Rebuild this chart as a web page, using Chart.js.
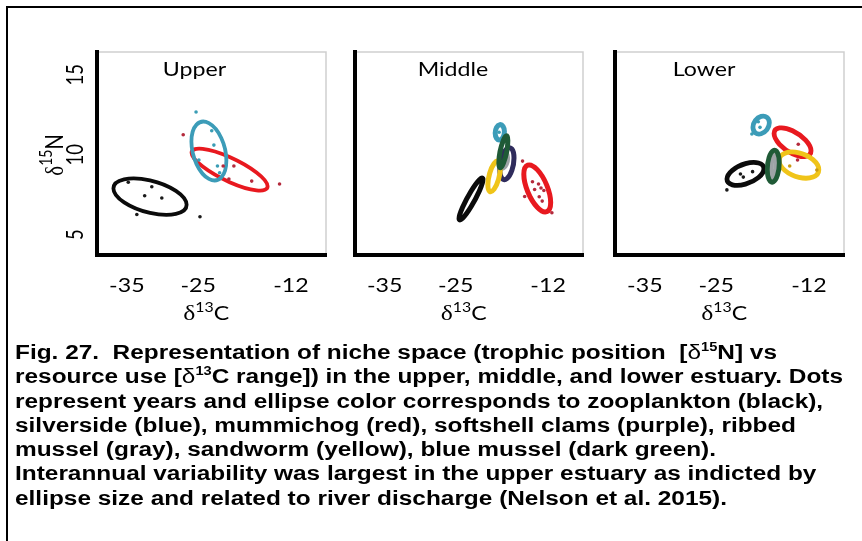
<!DOCTYPE html>
<html>
<head>
<meta charset="utf-8">
<script src="https://cdn.jsdelivr.net/npm/chart.js@4/dist/chart.umd.min.js"></script>
<style>
  html, body { margin: 0; padding: 0; background: #fff; }
  #page { position: relative; width: 862px; height: 541px; overflow: hidden; background: #fff; }
  #page canvas { position: absolute; left: 0; top: 0; }
  #frame { position: absolute; left: 6px; top: 6px; width: 1000px; height: 700px;
           border-left: 2px solid #000; border-top: 2px solid #000; }
  #caption { position: absolute; left: 15px; top: 340px; color: #000; white-space: nowrap;
             font-family: "Liberation Sans", Arial, sans-serif; font-weight: bold;
             font-size: 20px; line-height: 24.3px;
             transform: scaleX(1.22); transform-origin: 0 0; }
  #caption .d { font-weight: normal; }
  #caption sup { font-size: 12px; line-height: 0; vertical-align: 8px; }
</style>
</head>
<body>
<div id="page">
  <div id="frame"></div>
  <canvas id="upper" width="862" height="541"></canvas>
  <canvas id="middle" width="862" height="541"></canvas>
  <canvas id="lower" width="862" height="541"></canvas>
  <div id="caption">
    <div>Fig. 27.&nbsp; Representation of niche space (trophic position&nbsp; [<span class="d">δ</span><sup>15</sup>N] vs</div>
    <div>resource use [<span class="d">δ</span><sup>13</sup>C range]) in the upper, middle, and lower estuary. Dots</div>
    <div>represent years and ellipse color corresponds to zooplankton (black),</div>
    <div>silverside (blue), mummichog (red), softshell clams (purple), ribbed</div>
    <div>mussel (gray), sandworm (yellow), blue mussel (dark green).</div>
    <div>Interannual variability was largest in the upper estuary as indicted by</div>
    <div>ellipse size and related to river discharge (Nelson et al. 2015).</div>
  </div>
</div>
<script>
// ---- Data --------------------------------------------------------------
const xTickValues = [-35, -25, -12];   // δ13C
const yTickValues = [5, 10, 15];       // δ15N
const panelNames = ['Upper', 'Middle', 'Lower'];

// Niche ellipses: species, centre δ13C, centre δ15N, spread δ13C, spread δ15N, correlation
const upperEllipses = [
  ['zooplankton', -31.75, 7.38, 5.13, 1.14, -0.45],
  ['mummichog',   -20.6,  9.07, 5.33, 1.31, -0.80],
  ['silverside',  -23.5, 10.23, 2.45, 1.84, -0.32]
];
const middleEllipses = [
  ['zooplankton',     -22.85, 7.23, 1.68, 1.31, 0.93],
  ['ribbed mussel',   -18.3,  9.65, 0.60, 0.50, 0.30],
  ['softshell clams', -17.8,  9.44, 1.00, 1.00, 0.35],
  ['sandworm',        -19.6,  8.65, 0.88, 0.96, 0.55],
  ['silverside',      -18.8, 11.40, 0.65, 0.48, 0.10],
  ['blue mussel',     -18.3, 10.18, 0.63, 1.00, 0.70],
  ['mummichog',       -13.53, 7.89, 1.89, 1.47, -0.60]
];
const lowerEllipses = [
  ['mummichog',     -14.3, 10.78, 2.59, 0.90, -0.60],
  ['sandworm',      -13.4,  9.35, 2.78, 0.82, -0.35],
  ['zooplankton',   -20.9,  8.80, 2.59, 0.72, 0.45],
  ['ribbed mussel', -17.0,  9.28, 0.35, 0.80, 0.20],
  ['blue mussel',   -17.0,  9.28, 0.84, 1.00, 0.20],
  ['silverside',    -18.7, 11.85, 1.15, 0.56, 0.25]
];

// Yearly values [δ13C, δ15N]
const upperZooplankton = [[-34.8, 8.28], [-31.5, 8.0], [-32.5, 7.43], [-30.1, 7.29], [-33.6, 6.26], [-24.75, 6.12]];
const upperSilverside  = [[-25.3, 12.67], [-23.1, 11.5], [-22.8, 10.6], [-24.9, 9.67], [-22.3, 9.29], [-22.0, 8.87]];
const upperMummichog   = [[-27.1, 11.25], [-21.5, 9.29], [-20.0, 9.29], [-20.7, 8.48], [-17.5, 8.35], [-13.6, 8.17]];
const middleMummichog  = [[-15.6, 9.6], [-14.2, 8.31], [-13.35, 8.17], [-13.0, 7.92], [-13.9, 7.82],
                          [-12.6, 7.76], [-13.25, 7.37], [-15.3, 7.39], [-12.83, 7.1], [-11.47, 6.37]];
const middleSilverside = [[-18.9, 11.4]];
const lowerZooplankton = [[-21.6, 8.79], [-21.2, 8.6], [-19.9, 8.94], [-23.5, 7.8]];
const lowerSilverside  = [[-19.1, 12.06], [-18.86, 11.71], [-20.0, 11.29]];
const lowerMummichog   = [[-13.5, 10.65], [-13.6, 9.67]];
const lowerSandworm    = [[-14.7, 9.29], [-10.9, 9.04]];

// ---- Styles ------------------------------------------------------------
const ellipseColors = {
  'zooplankton': '#0b0b0b',
  'silverside': '#3c9cb8',
  'mummichog': '#e8191f',
  'softshell clams': '#2f2c5c',
  'ribbed mussel': '#9ea3a6',
  'sandworm': '#f0c419',
  'blue mussel': '#1f5a36'
};
const dotColors = {
  'zooplankton': '#1a1a1a',
  'silverside': '#3b9db5',
  'mummichog': '#b42a3c',
  'sandworm': '#c99a10'
};
const TEXT_STRETCH = 1.22;
const PANEL_TOP = 52, PANEL_BOTTOM = 255;

const panels = [
  { id: 'upper',  name: panelNames[0], left: 97,  right: 326, titleOffset: 97.5, lineWidth: 3.8,
    ellipses: upperEllipses, showY: true,
    dots: [['zooplankton', upperZooplankton], ['silverside', upperSilverside], ['mummichog', upperMummichog]] },
  { id: 'middle', name: panelNames[1], left: 355, right: 583, titleOffset: 98, lineWidth: 5,
    ellipses: middleEllipses, showY: false,
    dots: [['mummichog', middleMummichog], ['silverside', middleSilverside]] },
  { id: 'lower',  name: panelNames[2], left: 615, right: 844, titleOffset: 89, lineWidth: 4.8,
    ellipses: lowerEllipses, showY: false,
    dots: [['zooplankton', lowerZooplankton], ['silverside', lowerSilverside],
           ['mummichog', lowerMummichog], ['sandworm', lowerSandworm]] }
];

// ---- Drawing helpers ---------------------------------------------------
// Draws a run of text pieces (font / baseline shift) with a horizontal stretch
function drawRuns(ctx, runs, x, y, rotate) {
  ctx.save();
  ctx.translate(x, y);
  ctx.scale(TEXT_STRETCH, 1);
  if (rotate) ctx.rotate(rotate);
  let total = 0;
  for (const r of runs) { ctx.font = r.font; r.w = ctx.measureText(r.t).width; total += r.w + (r.gap || 0); }
  let cx = -total / 2;
  ctx.fillStyle = '#000';
  ctx.textAlign = 'left';
  ctx.textBaseline = 'alphabetic';
  for (const r of runs) { ctx.font = r.font; ctx.fillText(r.t, cx, r.dy || 0); cx += r.w + (r.gap || 0); }
  ctx.restore();
}

const plotFrame = {
  id: 'plotFrame',
  beforeDraw(chart) {
    const { ctx, chartArea: a } = chart;
    ctx.save();
    ctx.strokeStyle = '#cfcfcf';
    ctx.lineWidth = 1.5;
    ctx.beginPath();
    ctx.moveTo(a.left, a.top); ctx.lineTo(a.right, a.top); ctx.lineTo(a.right, a.bottom);
    ctx.stroke();
    ctx.restore();
  }
};

const nicheEllipses = {
  id: 'nicheEllipses',
  beforeDatasetsDraw(chart, args, opts) {
    const { ctx, chartArea: a } = chart;
    const xs = chart.scales.x, ys = chart.scales.y;
    ctx.save();
    ctx.beginPath(); ctx.rect(a.left, a.top, a.right - a.left, a.bottom - a.top); ctx.clip();
    for (const [sp, cx, cy, sx, sy, r] of opts.rows) {
      const px = xs.getPixelForValue(cx), py = ys.getPixelForValue(cy);
      const ux = xs.getPixelForValue(cx + sx) - px;
      const uy = ys.getPixelForValue(cy + sy * r) - py;
      const vy = ys.getPixelForValue(cy + sy * Math.sqrt(1 - r * r)) - py;
      ctx.save();
      ctx.beginPath();
      ctx.transform(ux, uy, 0, vy, px, py);
      ctx.arc(0, 0, 1, 0, Math.PI * 2);
      ctx.restore();
      ctx.lineWidth = opts.lineWidth;
      ctx.strokeStyle = ellipseColors[sp];
      ctx.stroke();
    }
    ctx.restore();
  }
};

const panelText = {
  id: 'panelText',
  afterDraw(chart, args, opts) {
    const { ctx, chartArea: a } = chart;
    const xs = chart.scales.x, ys = chart.scales.y;
    const lato = '"Lato", "Open Sans", sans-serif';
    // panel name
    drawRuns(ctx, [{ t: opts.name, font: `19px ${lato}` }], a.left + opts.titleOffset, 75.5);
    // x tick labels
    for (const tk of xs.ticks) {
      drawRuns(ctx, [{ t: String(tk.value), font: `19px ${lato}` }], xs.getPixelForValue(tk.value), 291.5);
    }
    // x axis title δ13C
    drawRuns(ctx, [
      { t: 'δ', font: '21px "Liberation Serif", serif' },
      { t: '13', font: `13px ${lato}`, dy: -8 },
      { t: 'C', font: `19px ${lato}` }
    ], xs.getPixelForValue(-25) + 8, 320);
    if (opts.showY) {
      for (const tk of ys.ticks) {
        drawRuns(ctx, [{ t: String(tk.value), font: `18.5px ${lato}` }], 83, ys.getPixelForValue(tk.value), -Math.PI / 2);
      }
      drawRuns(ctx, [
        { t: 'δ', font: '21px "Liberation Serif", serif' },
        { t: '15', font: `14px ${lato}`, dy: -9 },
        { t: 'N', font: `20px ${lato}` }
      ], 63, 155, -Math.PI / 2);
    }
  }
};

// ---- Charts ------------------------------------------------------------
for (const p of panels) {
  const datasets = p.dots.map(([sp, pts]) => ({
    label: sp,
    data: pts.map(([x, y]) => ({ x, y })),
    pointRadius: 1.8,
    pointBorderWidth: 0,
    pointBackgroundColor: dotColors[sp],
    showLine: false
  }));
  new Chart(document.getElementById(p.id), {
    type: 'scatter',
    data: { datasets },
    plugins: [plotFrame, nicheEllipses, panelText],
    options: {
      responsive: false,
      animation: false,
      events: [],
      layout: { padding: { left: p.left, right: 862 - p.right, top: PANEL_TOP, bottom: 541 - PANEL_BOTTOM } },
      scales: {
        x: {
          type: 'linear', min: -39.18, max: -7.09,
          afterBuildTicks: s => { s.ticks = xTickValues.map(v => ({ value: v })); },
          ticks: { display: false },
          grid: { display: false, drawTicks: false },
          border: { display: true, color: '#000', width: 4 }
        },
        y: {
          type: 'linear', min: 3.73, max: 16.42,
          afterBuildTicks: s => { s.ticks = yTickValues.map(v => ({ value: v })); },
          ticks: { display: false },
          grid: { display: false, drawTicks: false },
          border: { display: true, color: '#000', width: 4 }
        }
      },
      plugins: {
        legend: { display: false },
        tooltip: { enabled: false },
        nicheEllipses: { rows: p.ellipses, lineWidth: p.lineWidth },
        panelText: { name: p.name, titleOffset: p.titleOffset, showY: p.showY }
      }
    }
  });
}
</script>
</body>
</html>
